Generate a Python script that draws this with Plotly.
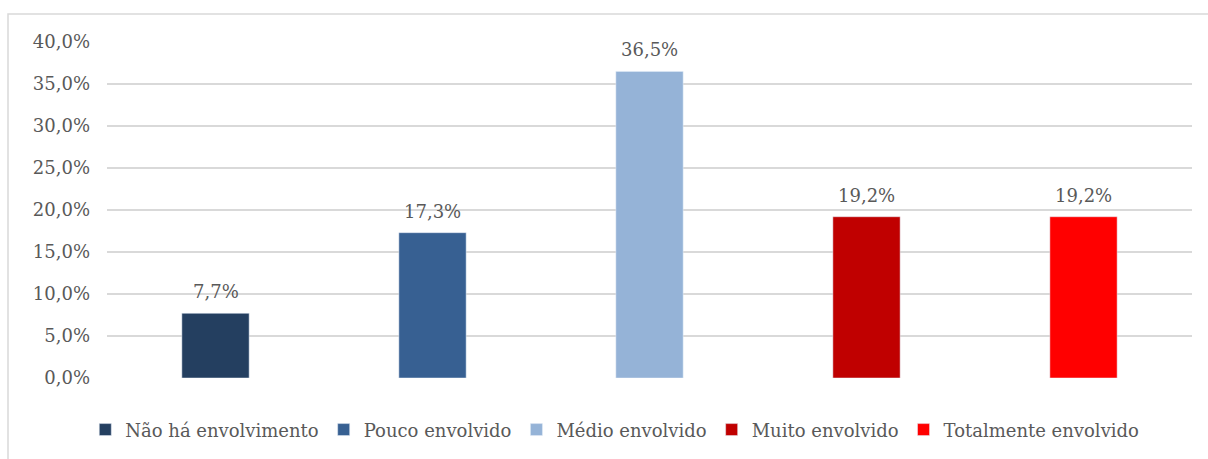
import plotly.graph_objects as go

categories = ["Não há envolvimento", "Pouco envolvido", "Médio envolvido",
              "Muito envolvido", "Totalmente envolvido"]
values = [7.7, 17.3, 36.5, 19.2, 19.2]
colors = ["#243F60", "#376092", "#95B3D7", "#C00000", "#FF0000"]
tick_vals = [0, 5, 10, 15, 20, 25, 30, 35, 40]
tick_text = ["0,0%", "5,0%", "10,0%", "15,0%", "20,0%", "25,0%", "30,0%", "35,0%", "40,0%"]

font_family = "DejaVu Serif"
gray = "#595959"

fig = go.Figure()
for cat, val, col in zip(categories, values, colors):
    fig.add_trace(go.Bar(
        x=[cat], y=[val], name=cat, marker_color=col,
        width=0.31, cliponaxis=False,
    ))
    fig.add_annotation(
        x=cat, y=val, text=f"{val:.1f}%".replace(".", ","),
        showarrow=False, yanchor="bottom", yshift=9,
        font=dict(family=font_family, size=18, color=gray),
    )

fig.update_layout(
    width=1208, height=459,
    margin=dict(l=107, r=16, t=42, b=80),
    paper_bgcolor="white", plot_bgcolor="white",
    barmode="overlay",
    separators=",.",
    font=dict(family=font_family, size=18, color=gray),
    showlegend=True,
    legend=dict(orientation="h", x=0.468, xanchor="center", y=-0.151, yanchor="middle",
                font=dict(family=font_family, size=18, color=gray),
                itemwidth=30, traceorder="normal"),
    xaxis=dict(showticklabels=False, showgrid=False, zeroline=False,
               showline=False, categoryorder="array", categoryarray=categories),
    yaxis=dict(range=[0, 40], tickmode="array", tickvals=tick_vals, ticktext=tick_text,
               showgrid=True, gridcolor="#D9D9D9", gridwidth=1.5,
               zeroline=False, showline=False, ticks="", ticklen=0,
               ticklabelstandoff=16,
               tickfont=dict(family=font_family, size=18, color=gray)),
    shapes=[dict(type="rect", xref="paper", yref="paper",
                 x0=-99/1085, x1=1.2, y0=-0.5, y1=1 + 28/337,
                 line=dict(color="#D9D9D9", width=1.5), layer="below")],
)

fig.write_html("out.html")
